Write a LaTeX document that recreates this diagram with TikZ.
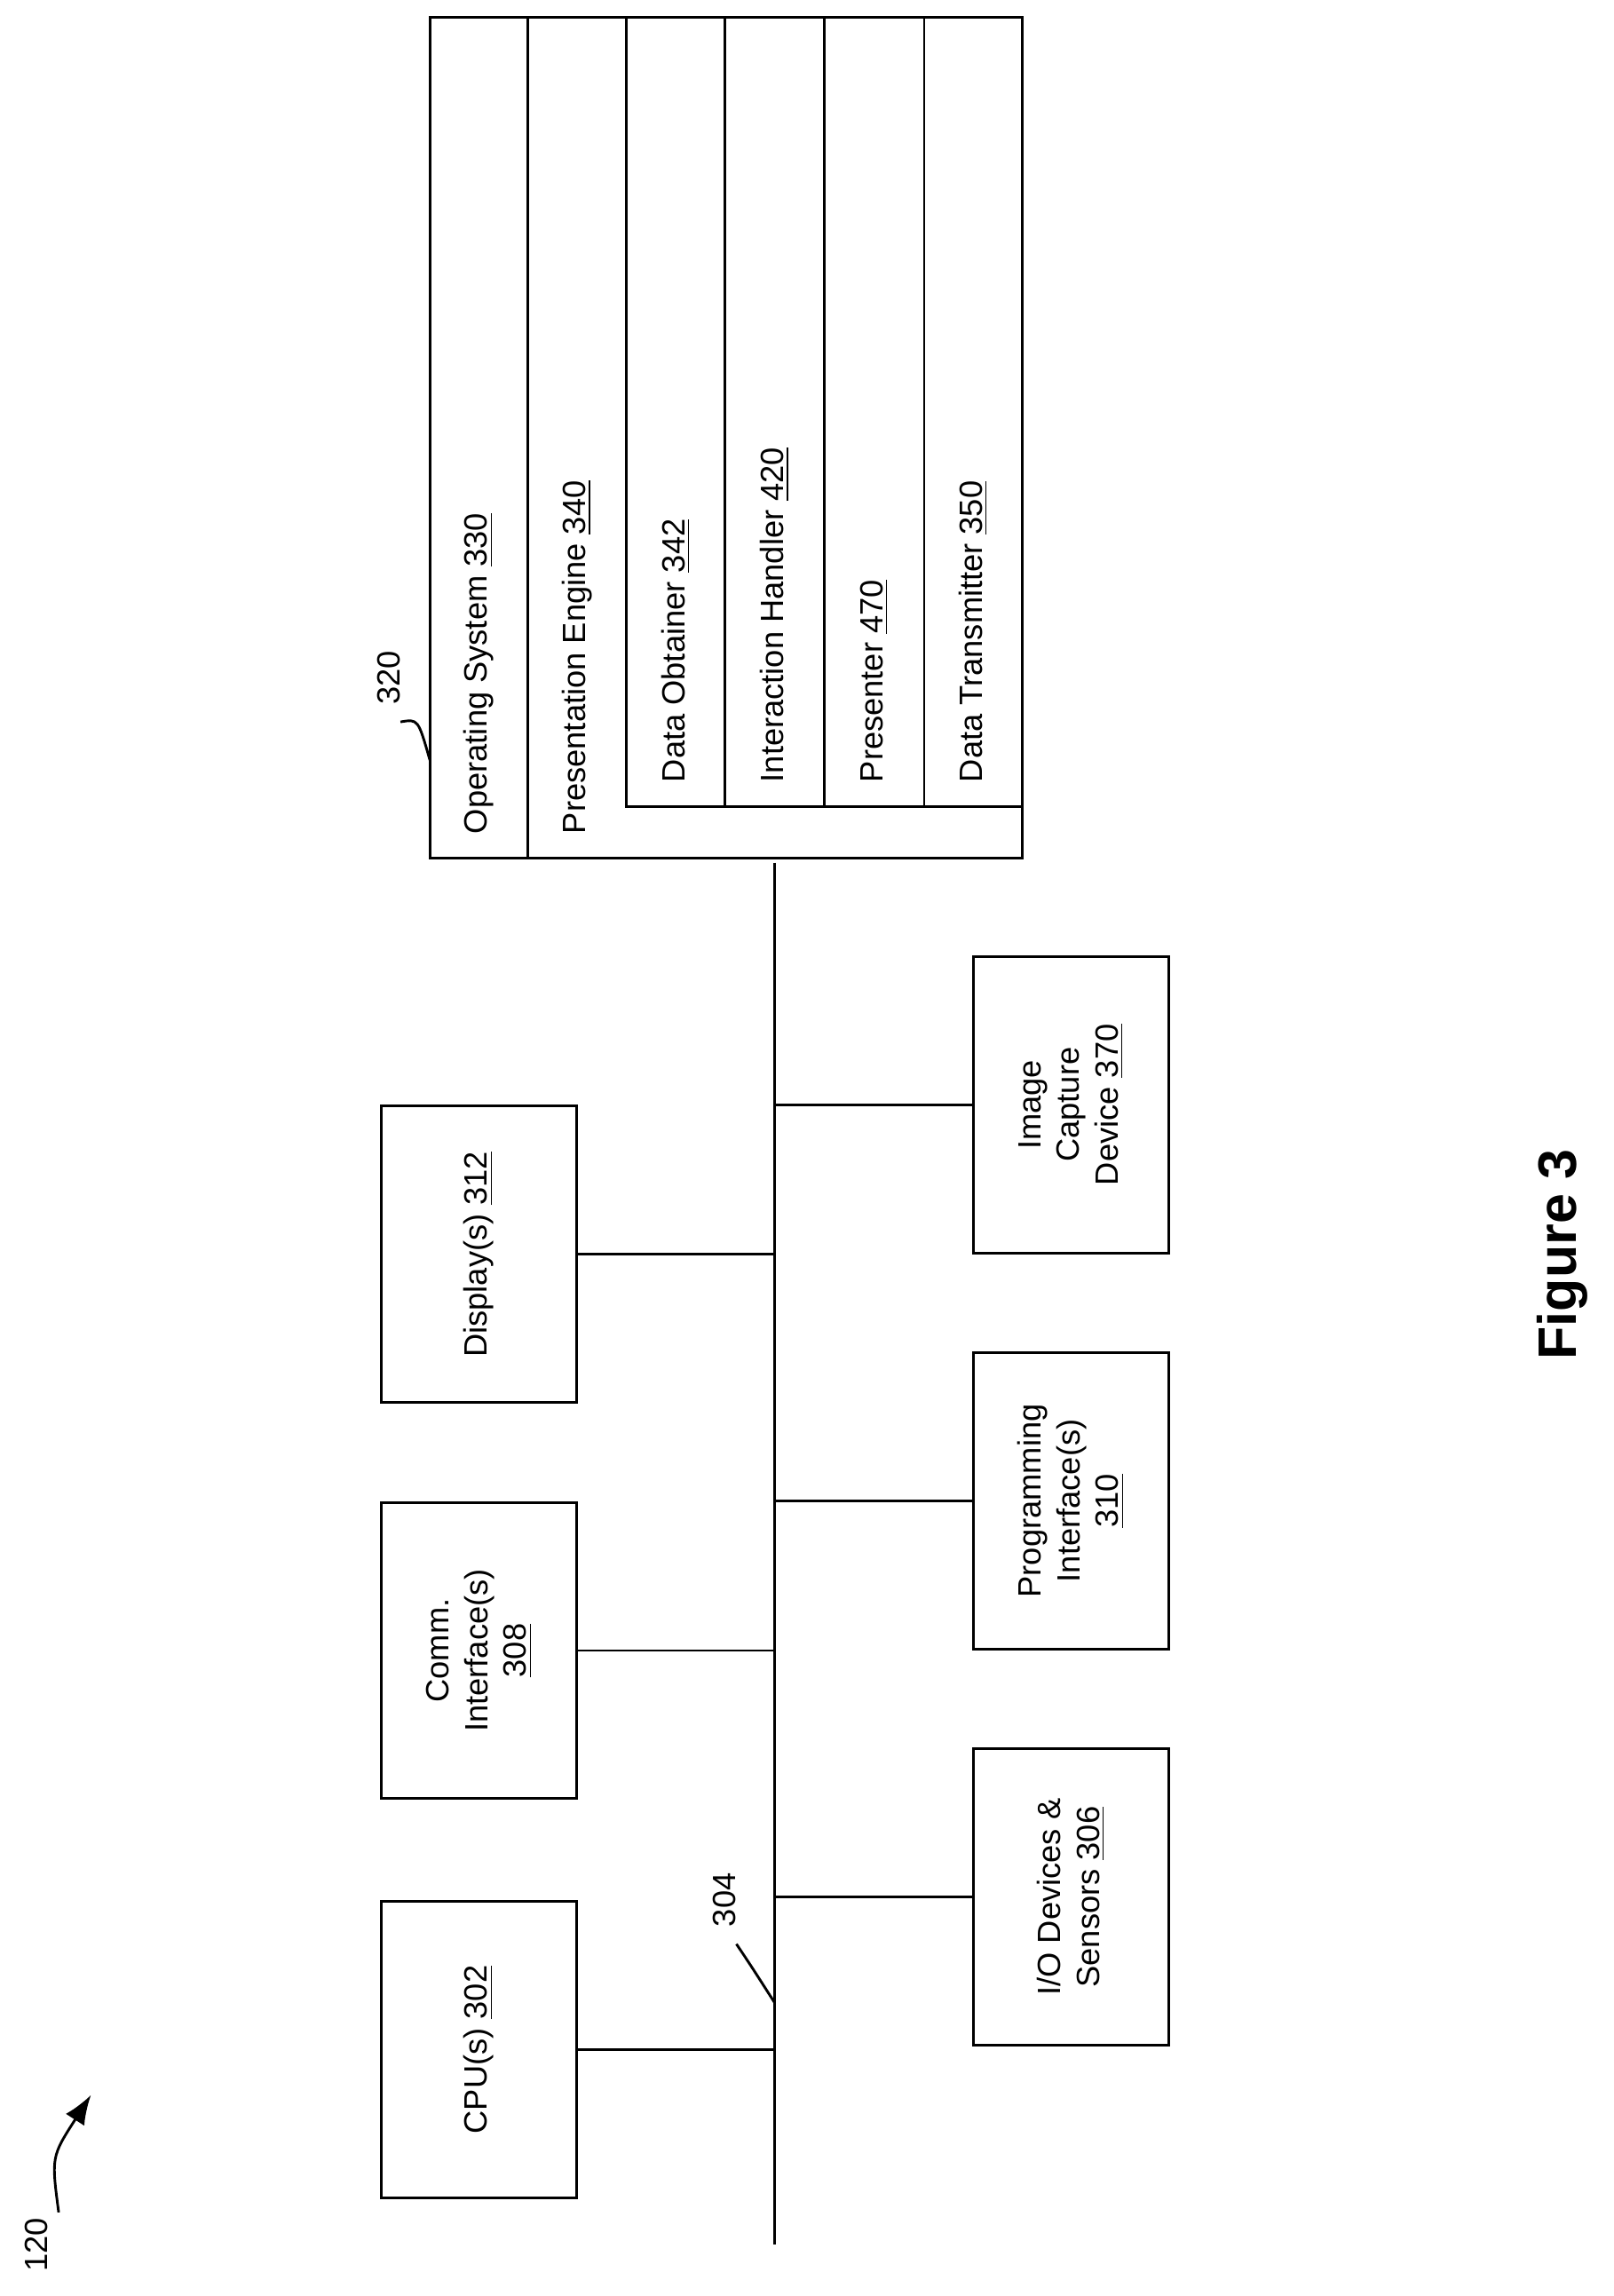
\documentclass[tikz,border=0pt]{standalone}
\usepackage{fontspec}
\setmainfont{Liberation Sans}
\usetikzlibrary{arrows.meta, positioning, calc}

\begin{document}
\begin{tikzpicture}[x=0.2mm, y=-0.2mm, line width=1pt,
  box/.style={draw, minimum width=40.4mm, minimum height=26.6mm, rotate=90, align=center,
    font=\fontsize{12.5}{15}\selectfont},
  lbl/.style={rotate=90, font=\fontsize{12.5}{15}\selectfont},
  col/.style={rotate=90, anchor=west, font=\fontsize{12.5}{15}\selectfont}]
  \useasboundingbox (0,0) rectangle (1100,1565);

  % bus
  \coordinate (bustop) at (528,588);
  \coordinate (busbot) at (528,1530);
  \draw (bustop) -- (busbot);

  % left boxes
  \node[box] (cpu) at (326.5,1397) {CPU(s) \underline{302}};
  \node[box] (comm) at (326.5,1125) {Comm.\\Interface(s)\\\underline{308}};
  \node[box] (disp) at (326.5,855) {Display(s) \underline{312}};
  % right boxes
  \node[box] (io) at (730,1293) {I/O Devices \&\\Sensors \underline{306}};
  \node[box] (prog) at (730,1023) {Programming\\Interface(s)\\\underline{310}};
  \node[box] (cam) at (730,753) {Image\\Capture\\Device \underline{370}};

  \foreach \n in {cpu, comm, disp}
    \draw (\n.south) -- (\n.south -| bustop);
  \foreach \n in {io, prog, cam}
    \draw (\n.north) -- (\n.north -| bustop);

  % memory 320
  \draw (293,12) rectangle (697,585);
  \draw (360,12) -- (360,585);
  \draw (427,12) -- (427,550) -- (697,550);
  \foreach \x in {494,562,630}
    \draw (\x,12) -- (\x,550);
  \node[col] (os) at (326.5,575) {Operating System \underline{330}};
  \node[col] (pe) at (393.5,575) {Presentation Engine \underline{340}};
  \node[col] (dob) at (460.5,540) {Data Obtainer \underline{342}};
  \node[col] (ih) at (528,540) {Interaction Handler \underline{420}};
  \node[col] (pr) at (596,540) {Presenter \underline{470}};
  \node[col] (dt) at (663.5,540) {Data Transmitter \underline{350}};

  % reference labels
  \node[lbl] (l320) at (265,462) {320};
  \draw (l320.west) ++(8,5) .. controls (285,490) .. (293,518);
  \node[lbl] (l304) at (494,1295) {304};
  \draw (l304.west) ++(8,5) .. controls (512,1340) .. (528,1365);
  \node[lbl] (l120) at (25,1530) {120};
  \draw[-{Latex[length=4mm,width=3mm]}] (40,1508) .. controls (35,1470) .. (62,1428);

  \node[rotate=90, font=\bfseries\fontsize{21}{25}\selectfont] (fig) at (1065,855) {Figure 3};
\end{tikzpicture}
\end{document}
